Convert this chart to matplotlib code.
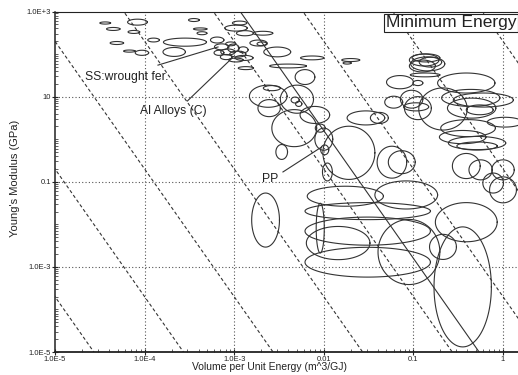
import matplotlib
matplotlib.use('Agg')
import matplotlib.pyplot as plt
import numpy as np
from matplotlib.ticker import LogLocator, FixedLocator, FixedFormatter, NullFormatter

plt.rcParams['font.family'] = ['Liberation Sans', 'DejaVu Sans']

# material bubbles: log10 centre (volume, modulus) and full extent in decades
log_v = [-4.44, -4.35, -4.08, -4.12, -4.31, -4.17, -4.03, -3.90, -3.55, -3.67,
         -3.45, -3.36, -3.38, -3.19, -2.89, -2.87, -2.98, -2.88, -2.94, -2.68,
         -2.73, -2.52, -2.69, -3.14, -3.07, -3.01, -2.96, -3.09, -2.90, -3.04,
         -3.17, -2.98, -2.40, -2.13, -1.70, -1.74, -2.21, -2.58, -2.62, -2.61,
         -2.30, -2.32, -2.28, -2.10, -1.53, -2.33, -2.47, -2.00, -2.04, -1.96,
         -1.72, -1.99, -1.24, -0.88, -0.84, -0.90, -0.81, -0.86, -0.87, -1.15,
         -0.95, -0.41, -1.22, -1.02, -0.95, -0.97, -1.38, -0.67, -0.36, -0.22,
         -0.35, -0.26, -0.39, -0.45, -0.29, -0.29, 0.02, -0.41, -0.25, 0.00,
         -1.13, -0.11, 0.00, -1.76, -1.08, -1.51, -1.51, -1.84, -1.51, -1.05,
         -0.41, -0.67, -0.45, -2.04, -2.65]
log_e = [2.73, 2.59, 2.75, 2.52, 2.26, 2.07, 2.03, 2.33, 2.28, 2.05,
         2.80, 2.49, 2.59, 2.33, 1.91, 1.67, 2.61, 2.49, 2.73, 2.49,
         2.26, 2.05, 2.24, 2.17, 2.05, 2.14, 2.00, 1.93, 2.10, 2.24,
         2.03, 1.86, 1.72, 1.91, 1.86, 1.79, 1.46, 1.20, 1.01, 0.73,
         0.94, 0.92, 0.83, 0.57, 0.50, 0.26, -0.30, 0.00, 0.26, -0.77,
         -0.32, -0.25, -0.54, 1.86, 1.77, 1.72, 1.81, 1.91, 1.51, 1.34,
         1.32, 1.32, 0.87, 0.94, 0.73, 0.76, 0.50, 0.71, 0.97, 0.92,
         0.73, 0.69, 0.26, 0.05, -0.09, -0.16, 0.40, -0.63, -0.72, -0.72,
         -0.54, -1.03, -1.19, -1.34, -1.31, -1.69, -2.16, -2.44, -2.89, -2.65,
         -1.95, -2.53, -3.47, -2.09, -1.90]
span_v = [0.12, 0.15, 0.22, 0.13, 0.15, 0.13, 0.15, 0.13, 0.48, 0.25,
          0.12, 0.11, 0.15, 0.15, 0.20, 0.17, 0.25, 0.19, 0.16, 0.22,
          0.19, 0.30, 0.11, 0.16, 0.16, 0.13, 0.18, 0.13, 0.11, 0.11,
          0.11, 0.16, 0.41, 0.26, 0.20, 0.09, 0.22, 0.19, 0.42, 0.25,
          0.37, 0.09, 0.07, 0.33, 0.42, 0.50, 0.13, 0.20, 0.11, 0.11,
          0.58, 0.09, 0.33, 0.33, 0.38, 0.29, 0.25, 0.31, 0.33, 0.30,
          0.11, 0.64, 0.20, 0.25, 0.30, 0.28, 0.20, 0.54, 0.65, 0.67,
          0.54, 0.30, 0.61, 0.52, 0.64, 0.45, 0.39, 0.31, 0.26, 0.25,
          0.30, 0.23, 0.30, 0.85, 0.70, 1.40, 1.40, 0.71, 1.40, 0.69,
          0.69, 0.30, 0.64, 0.09, 0.31]
span_e = [0.05, 0.07, 0.14, 0.07, 0.07, 0.05, 0.12, 0.09, 0.19, 0.21,
          0.07, 0.07, 0.05, 0.14, 0.12, 0.07, 0.14, 0.12, 0.09, 0.09,
          0.14, 0.23, 0.09, 0.14, 0.14, 0.19, 0.14, 0.12, 0.14, 0.09,
          0.12, 0.09, 0.09, 0.09, 0.07, 0.05, 0.35, 0.12, 0.52, 0.40,
          0.66, 0.14, 0.12, 0.40, 0.33, 0.87, 0.35, 0.52, 0.19, 0.42,
          1.25, 0.23, 0.75, 0.28, 0.33, 0.28, 0.23, 0.19, 0.09, 0.31,
          0.12, 0.47, 0.28, 0.42, 0.54, 0.19, 0.26, 0.99, 0.40, 0.33,
          0.47, 0.23, 0.40, 0.31, 0.31, 0.19, 0.23, 0.59, 0.47, 0.47,
          0.54, 0.47, 0.61, 0.47, 0.66, 0.40, 0.66, 0.78, 0.70, 1.53,
          0.92, 0.59, 2.82, 1.17, 1.27]

# guide lines log10(E) + 3 log10(V) = const
guide_consts = [-18.7, -15.7, -12.7, -9.7, -6.7, -3.7, -0.7, 2.3]
select_const = -5.8

# labels: text anchor (V, E), leader start, leader end
labels = ['SS:wrought fer.', 'Al Alloys (C)', 'PP']
label_pos = [(2.15e-5, 29), (8.9e-5, 4.6), (2.04e-3, 0.115)]
leader_from = [(1.41e-4, 55), (3.0e-4, 7.9), (3.5e-3, 0.17)]
leader_to = [(6.6e-4, 147), (9.5e-4, 81), (9.5e-3, 0.66)]

x_ticks = [1e-5, 1e-4, 1e-3, 1e-2, 1e-1, 1]
x_ticklabels = ['1.0E-5', '1.0E-4', '1.0E-3', '0.01', '0.1', '1']
y_ticks = [1e-5, 1e-3, 1e-1, 10, 1e3]
y_ticklabels = ['1.0E-5', '1.0E-3', '0.1', '10', '1.0E+3']

ink = '#333333'

fig = plt.figure(figsize=(5.18, 3.75), dpi=100)
ax = fig.add_axes([0.1062, 0.0613, 0.8938, 0.908])
ax.set_xscale('log')
ax.set_yscale('log')
ax.set_xlim(1e-5, 1.47)
ax.set_ylim(1e-5, 1e3)

# dotted grid at labelled ticks
for xv in x_ticks[1:]:
    ax.axvline(xv, color='#555555', lw=0.8, ls=(0, (1, 2)), zorder=1)
for yv in y_ticks[1:-1]:
    ax.axhline(yv, color='#555555', lw=0.8, ls=(0, (1, 2)), zorder=1)

lv_grid = np.linspace(-5.5, 0.5, 200)
for c in guide_consts:
    ax.plot(10 ** lv_grid, 10 ** (c - 3 * lv_grid), color=ink, lw=0.8,
            ls=(0, (3, 2.2)), zorder=2)
ax.plot(10 ** lv_grid, 10 ** (select_const - 3 * lv_grid), color=ink, lw=0.8, zorder=2)

t = np.linspace(0, 2 * np.pi, 120)
for cx, cy, wv, he in zip(log_v, log_e, span_v, span_e):
    ax.plot(10 ** (cx + wv / 2 * np.cos(t)), 10 ** (cy + he / 2 * np.sin(t)),
            color=ink, lw=0.8, zorder=3)

for txt, pos, p0, p1 in zip(labels, label_pos, leader_from, leader_to):
    ax.text(pos[0], pos[1], txt, fontsize=8.7, color='#222222', va='center', ha='left', zorder=5)
    ax.plot([p0[0], p1[0]], [p0[1], p1[1]], color=ink, lw=0.8, zorder=4)

ax.text(0.715, 0.967, 'Minimum Energy', transform=ax.transAxes, fontsize=12.5,
        color='#222222', va='center', ha='left', zorder=6,
        bbox=dict(boxstyle='square,pad=0.1', fc='white', ec='#222222', lw=0.8))

ax.xaxis.set_major_locator(FixedLocator(x_ticks))
ax.xaxis.set_major_formatter(FixedFormatter(x_ticklabels))
ax.yaxis.set_major_locator(FixedLocator(y_ticks))
ax.yaxis.set_major_formatter(FixedFormatter(y_ticklabels))
ax.xaxis.set_minor_locator(LogLocator(base=10, subs=np.arange(2, 10), numticks=20))
ax.yaxis.set_minor_locator(LogLocator(base=10, subs=np.arange(1, 10), numticks=20))
ax.xaxis.set_minor_formatter(NullFormatter())
ax.yaxis.set_minor_formatter(NullFormatter())
ax.tick_params(which='major', direction='inout', length=4, width=0.8, labelsize=5.5,
               pad=1, colors='#222222')
ax.tick_params(which='minor', direction='in', length=2, width=0.6, colors='#444444')

ax.spines['right'].set_visible(False)
ax.spines['left'].set_linewidth(1.1)
ax.spines['bottom'].set_linewidth(1.3)
ax.spines['top'].set_linewidth(0.8)
for s in ax.spines.values():
    s.set_color('#222222')

ax.set_ylabel("Young's Modulus (GPa)", fontsize=8, color='#222222')
ax.set_xlabel('Volume per Unit Energy (m^3/GJ)', fontsize=7.5, color='#222222', va='center')
ax.yaxis.set_label_coords(-0.076, 0.51)
ax.xaxis.set_label_coords(0.464, -0.045)

fig.savefig('out.png', dpi=100)
